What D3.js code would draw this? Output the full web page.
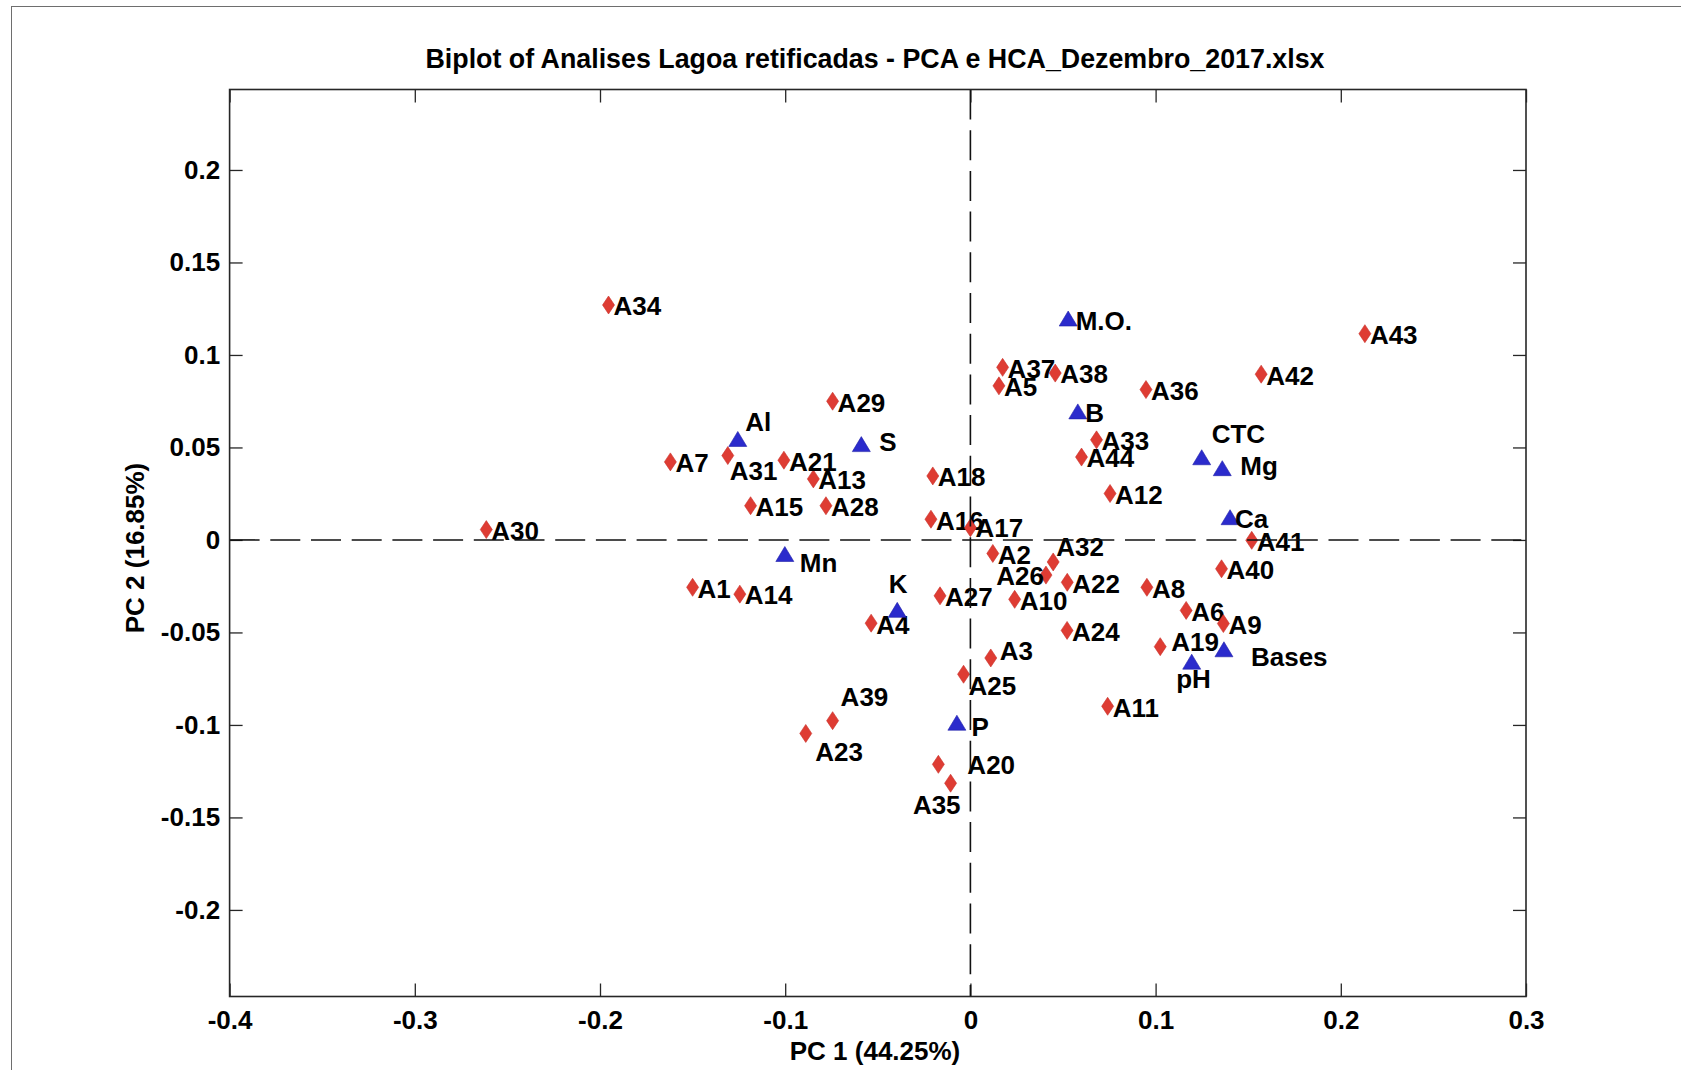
<!DOCTYPE html>
<html>
<head>
<meta charset="utf-8">
<title>Biplot PC1 x PC2</title>
<script src="https://cdn.jsdelivr.net/npm/d3@7"></script>
<style>
  html, body { margin: 0; padding: 0; background: #ffffff; }
  svg { display: block; }
  text { font-family: "Liberation Sans", Arial, Helvetica, sans-serif; font-weight: bold; fill: #000; }
</style>
</head>
<body>
<svg id="chart" width="1681" height="1070"></svg>
<script>
// Sample scores (red diamonds)
const sampleNames = ["A1","A2","A3","A4","A5","A6","A7","A8","A9","A10",
  "A11","A12","A13","A14","A15","A16","A17","A18","A19","A20",
  "A21","A22","A23","A24","A25","A26","A27","A28","A29","A30",
  "A31","A32","A33","A34","A35","A36","A37","A38","A39","A40",
  "A41","A42","A43","A44"];
const samplePC1 = [-0.150, 0.0121, 0.0110, -0.0536, 0.0154, 0.1165, -0.1620, 0.0953, 0.1366, 0.0239,
  0.0741, 0.0754, -0.0848, -0.1245, -0.1187, -0.0213, 0.0000, -0.0203, 0.1025, -0.0173,
  -0.1007, 0.0523, -0.0889, 0.0522, -0.0037, 0.0408, -0.0164, -0.0780, -0.0744, -0.2614,
  -0.1310, 0.0447, 0.0681, -0.1954, -0.0107, 0.0948, 0.0174, 0.0458, -0.0744, 0.1356,
  0.1519, 0.1570, 0.2130, 0.0600];
const samplePC2 = [-0.0256, -0.0073, -0.0638, -0.0450, 0.0833, -0.0381, 0.0422, -0.0256, -0.0452, -0.0321,
  -0.0899, 0.0251, 0.0330, -0.0293, 0.0185, 0.0112, 0.0066, 0.0346, -0.0577, -0.1213,
  0.0431, -0.0229, -0.1046, -0.0489, -0.0726, -0.0190, -0.0302, 0.0185, 0.0750, 0.0056,
  0.0456, -0.0119, 0.0541, 0.1270, -0.1315, 0.0813, 0.0933, 0.0902, -0.0977, -0.0156,
  -0.0002, 0.0896, 0.1115, 0.0448];

// Variable loadings (blue triangles)
const variableNames = ["Al","S","Mn","K","M.O.","B","CTC","Mg","Ca","Bases","pH","P"];
const variablePC1 = [-0.1256, -0.0589, -0.1002, -0.0395, 0.0528, 0.0580, 0.1249, 0.1360, 0.1402, 0.1369, 0.1195, -0.0073];
const variablePC2 = [0.0546, 0.0518, -0.0076, -0.0378, 0.1197, 0.0695, 0.0447, 0.0388, 0.0123, -0.0591, -0.0658, -0.0988];

// Axis ticks
const xTickValues = [-0.4, -0.3, -0.2, -0.1, 0, 0.1, 0.2, 0.3];
const xTickLabels = ["-0.4", "-0.3", "-0.2", "-0.1", "0", "0.1", "0.2", "0.3"];
const yTickValues = [0.2, 0.15, 0.1, 0.05, 0, -0.05, -0.1, -0.15, -0.2];
const yTickLabels = ["0.2", "0.15", "0.1", "0.05", "0", "-0.05", "-0.1", "-0.15", "-0.2"];

const xDomain = [-0.4, 0.3];
const yDomain = [-0.2468, 0.2435];

const titleText = "Biplot of Analises Lagoa retificadas - PCA e HCA_Dezembro_2017.xlsx";
const xTitle = "PC 1 (44.25%)";
const yTitle = "PC 2 (16.85%)";

// Label placement relative to each marker: [dx, dy (text middle), anchor]
const defaultPlacement = [5, 1, "start"];
const labelPlacement = {
  "Al": [7.5, -17, "start"],
  "A31": [2, 15, "start"],
  "S": [18, -2, "start"],
  "Mn": [15, 8.5, "start"],
  "K": [1, -26, "middle"],
  "A32": [3, -15, "start"],
  "A26": [-2, 0.5, "end"],
  "A3": [9, -7, "start"],
  "A25": [5, 11, "start"],
  "A39": [8, -23.5, "start"],
  "A23": [9.5, 18, "start"],
  "P": [14.5, 4, "start"],
  "A20": [29, 0, "start"],
  "A35": [10, 21, "end"],
  "A19": [11, -5, "start"],
  "CTC": [10, -24, "start"],
  "Mg": [18, -2, "start"],
  "Bases": [27, 7, "start"],
  "pH": [-15.5, 17, "start"],
  "M.O.": [7.5, 2.5, "start"],
  "B": [7.5, 1.5, "start"],
  "A17": [5, 0, "start"]
};

const svg = d3.select("#chart");
const W = 1681, H = 1070;
const plot = { left: 229.6, right: 1526, top: 89.5, bottom: 996.5 };
const fontSize = 26;

const x = d3.scaleLinear().domain(xDomain).range([plot.left, plot.right]);
const y = d3.scaleLinear().domain(yDomain).range([plot.bottom, plot.top]);

// Figure border
svg.append("rect")
  .attr("x", 11.5).attr("y", 6.5)
  .attr("width", W + 20).attr("height", H + 20)
  .attr("fill", "none").attr("stroke", "#6e6e6e").attr("stroke-width", 1);

// Title
svg.append("text")
  .attr("x", 875).attr("y", 67.5)
  .attr("text-anchor", "middle")
  .style("font-size", "26.8px")
  .text(titleText);

// Axes (ticks point inwards on every side)
const tickLen = 13;
const axisColor = "#262626";

function styleAxis(g) {
  g.select(".domain").remove();
  g.selectAll(".tick line").attr("stroke", axisColor).attr("stroke-width", 1.3);
  g.selectAll(".tick text")
    .style("font-size", fontSize + "px")
    .style("font-family", "\"Liberation Sans\", Arial, sans-serif")
    .style("font-weight", "bold")
    .attr("fill", "#000");
}

svg.append("g")
  .attr("transform", `translate(0,${plot.bottom})`)
  .call(d3.axisBottom(x).tickValues(xTickValues)
    .tickFormat((d, i) => xTickLabels[i])
    .tickSizeInner(-tickLen).tickSizeOuter(0).tickPadding(14))
  .call(styleAxis);

svg.append("g")
  .attr("transform", `translate(0,${plot.top})`)
  .call(d3.axisTop(x).tickValues(xTickValues).tickFormat("")
    .tickSizeInner(-tickLen).tickSizeOuter(0))
  .call(styleAxis);

svg.append("g")
  .attr("transform", `translate(${plot.left},0)`)
  .call(d3.axisLeft(y).tickValues(yTickValues)
    .tickFormat((d, i) => yTickLabels[i])
    .tickSizeInner(-tickLen).tickSizeOuter(0).tickPadding(9.5))
  .call(styleAxis);

svg.append("g")
  .attr("transform", `translate(${plot.right},0)`)
  .call(d3.axisRight(y).tickValues(yTickValues).tickFormat("")
    .tickSizeInner(-tickLen).tickSizeOuter(0))
  .call(styleAxis);

// Axis titles
svg.append("text")
  .attr("x", 875).attr("y", 1060)
  .attr("text-anchor", "middle")
  .style("font-size", fontSize + "px")
  .text(xTitle);

svg.append("text")
  .attr("transform", "translate(144,548) rotate(-90)")
  .attr("text-anchor", "middle")
  .style("font-size", fontSize + "px")
  .text(yTitle);

// Markers and labels
const samples = sampleNames.map((n, i) => ({ name: n, pc1: samplePC1[i], pc2: samplePC2[i] }));
const variables = variableNames.map((n, i) => ({ name: n, pc1: variablePC1[i], pc2: variablePC2[i] }));

const diamondHalfW = 6, diamondHalfH = 9;
const diamondPath = `M0,${-diamondHalfH}L${diamondHalfW},0L0,${diamondHalfH}L${-diamondHalfW},0Z`;
const triHalfW = 9, triH = 15;
const trianglePath = `M0,${-triH / 2}L${triHalfW},${triH / 2}L${-triHalfW},${triH / 2}Z`;

const capHalf = fontSize * 0.358;

function addLabels(sel) {
  sel.append("text")
    .attr("x", d => x(d.pc1) + (labelPlacement[d.name] || defaultPlacement)[0])
    .attr("y", d => y(d.pc2) + (labelPlacement[d.name] || defaultPlacement)[1] + capHalf)
    .attr("text-anchor", d => (labelPlacement[d.name] || defaultPlacement)[2])
    .style("font-size", fontSize + "px")
    .text(d => d.name);
}

const sampleG = svg.append("g").selectAll("g").data(samples).join("g");
sampleG.append("path")
  .attr("d", diamondPath)
  .attr("transform", d => `translate(${x(d.pc1)},${y(d.pc2)})`)
  .attr("fill", "#de3c33")
  .attr("stroke", "#c9302a").attr("stroke-width", 0.6);

const varG = svg.append("g").selectAll("g").data(variables).join("g");
varG.append("path")
  .attr("d", trianglePath)
  .attr("transform", d => `translate(${x(d.pc1)},${y(d.pc2)})`)
  .attr("fill", "#2b2bcc")
  .attr("stroke", "#1f1fa8").attr("stroke-width", 0.6);

sampleG.call(addLabels);
varG.call(addLabels);

// Reference lines through the origin
svg.append("line")
  .attr("x1", plot.left).attr("x2", plot.right)
  .attr("y1", y(0)).attr("y2", y(0))
  .attr("stroke", "#111").attr("stroke-width", 1.6)
  .attr("stroke-dasharray", "30,10.7");

svg.append("line")
  .attr("x1", x(0)).attr("x2", x(0))
  .attr("y1", plot.top).attr("y2", plot.bottom)
  .attr("stroke", "#111").attr("stroke-width", 1.6)
  .attr("stroke-dasharray", "30,10.7");

// Plot box
svg.append("rect")
  .attr("x", plot.left).attr("y", plot.top)
  .attr("width", plot.right - plot.left).attr("height", plot.bottom - plot.top)
  .attr("fill", "none").attr("stroke", axisColor).attr("stroke-width", 1.6);
</script>
</body>
</html>
